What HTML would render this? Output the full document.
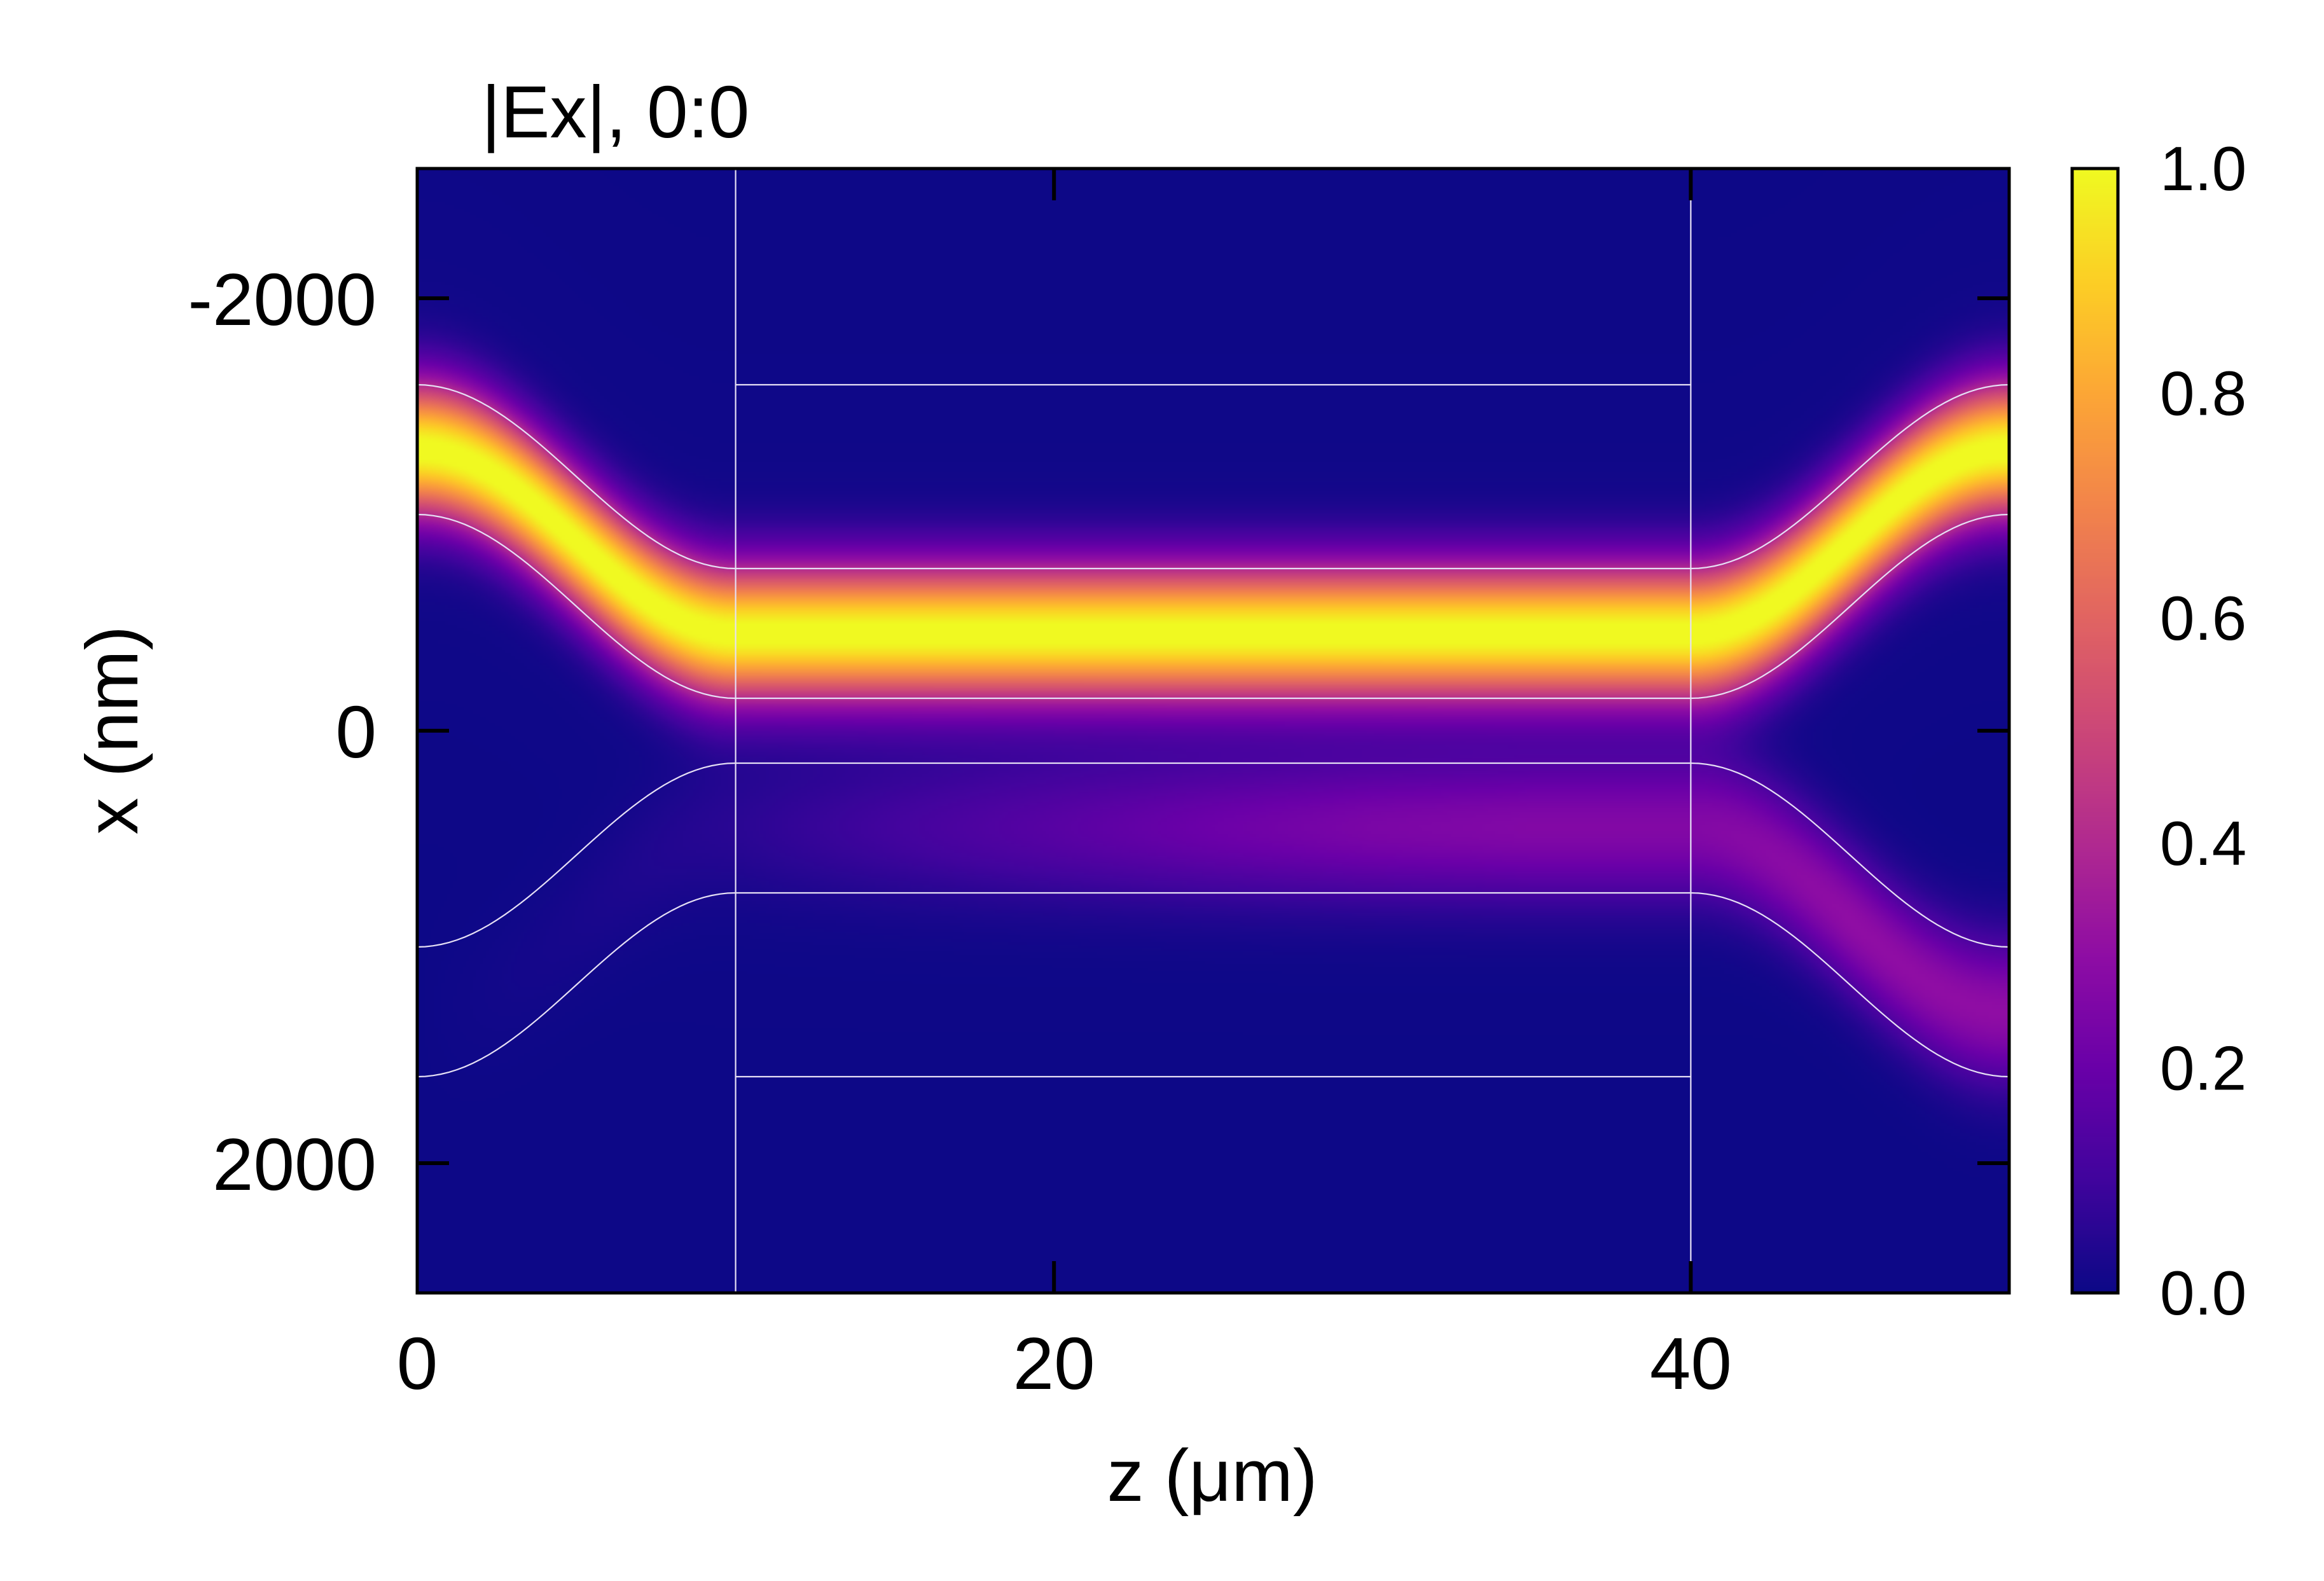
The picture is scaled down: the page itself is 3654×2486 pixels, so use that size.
<!DOCTYPE html>
<html><head><meta charset="utf-8"><style>
html,body{margin:0;padding:0;background:#fff;}
#root{position:relative;width:3654px;height:2486px;overflow:hidden;font-family:"Liberation Sans",sans-serif;color:#000;}
.t{position:absolute;font-size:116px;line-height:1;white-space:nowrap;}
</style></head><body>
<div id="root">
<canvas id="heat" width="500" height="354" style="position:absolute;left:656px;top:265px;width:2503px;height:1768px;"></canvas>
<canvas id="cbar" width="10" height="256" style="position:absolute;left:3258px;top:265px;width:72px;height:1768px;"></canvas>
<svg id="ov" width="3654" height="2486" style="position:absolute;left:0;top:0;"></svg>
<div class="t" style="left:757px;top:118px;">|Ex|, 0:0</div>
<div class="t" style="left:1906px;top:2262px;transform:translateX(-50%);">z (μm)</div>
<div class="t" style="left:176px;top:1148px;transform:translate(-50%,-50%) rotate(-90deg);">x (nm)</div>
</div>
<script>
// data
const zTicks=[0,20,40];
const xTicks=[-2000,0,2000];
const cbTicks=[0.0,0.2,0.4,0.6,0.8,1.0];
const ampZ=[0,5,10,15,20,25,30,35,40,45,50];
const upperAmp=[1,1,1,1,1,1,1,1,1,1,1];
const lowerAmp=[0,0.02,0.05,0.1,0.15,0.2,0.24,0.26,0.26,0.3,0.3];
const bendOuter=[-1300,1300]; // guide centers at z=0 and z=50 (nm)
const bendInner=[-450,450];   // guide centers in coupler
const guideWidth=600;
const couplerZ=[10,40];
const boxX=[-1600,1600];
const Z0=0,Z1=50,X0=-2600,X1=2600;
const L=656,R=3159,T=265,B=2033;
const sx=z=>L+(z-Z0)/(Z1-Z0)*(R-L);
const sy=x=>T+(x-X0)/(X1-X0)*(B-T);
const plasma=[[13,8,135],[65,4,157],[106,0,168],[143,13,164],[177,42,144],[204,71,120],[225,100,98],[242,132,75],[252,166,54],[252,206,37],[240,249,33]];
function cmap(v){v=Math.max(0,Math.min(1,v));const p=v*10,i=Math.min(9,Math.floor(p)),f=p-i;return plasma[i].map((c,k)=>c+(plasma[i+1][k]-c)*f);}
function center(z,k){
 const o=bendOuter[k],n=bendInner[k];
 if(z<=couplerZ[0]){const t=z/couplerZ[0];return o+(n-o)*(1-Math.cos(Math.PI*t))/2;}
 if(z>=couplerZ[1]){const t=(Z1-z)/(Z1-couplerZ[1]);return o+(n-o)*(1-Math.cos(Math.PI*t))/2;}
 return n;}
function interp(arr,z){const i=Math.min(arr.length-2,Math.floor(z/5));const f=(z-ampZ[i])/5;return arr[i]+(arr[i+1]-arr[i])*f;}
const hc=document.getElementById('heat'),ctx=hc.getContext('2d');
const W=hc.width,H=hc.height,img=ctx.createImageData(W,H);
for(let i=0;i<W;i++){const z=Z0+(i+0.5)/W*(Z1-Z0);
 const cu=center(z,0),cl=center(z,1),au=interp(upperAmp,z),al=interp(lowerAmp,z);
 for(let j=0;j<H;j++){const x=X0+(j+0.5)/H*(X1-X0);
  const v=au*Math.exp(-Math.pow((x-cu)/310,2))+al*Math.exp(-Math.pow((x-cl)/330,2))+0.02*Math.exp(-Math.abs(x-cu)/600);
  const c=cmap(v),o=(j*W+i)*4;img.data[o]=c[0];img.data[o+1]=c[1];img.data[o+2]=c[2];img.data[o+3]=255;}}
ctx.putImageData(img,0,0);
const cb=document.getElementById('cbar'),cx=cb.getContext('2d');
for(let j=0;j<256;j++){const c=cmap(1-j/255);cx.fillStyle=`rgb(${c.map(Math.round).join(',')})`;cx.fillRect(0,j,10,1);}
const svg=document.getElementById('ov'),NS='http://www.w3.org/2000/svg';
function add(tag,attrs,name){const e=document.createElementNS(NS,tag);for(const k in attrs)e.setAttribute(k,attrs[k]);
 
 
 svg.appendChild(e);return e;}
for(let k=0;k<2;k++){for(const s of [-1,1]){let d='';for(let n=0;n<=200;n++){const z=Z0+n/200*(Z1-Z0);d+=(n?'L':'M')+sx(z).toFixed(1)+','+sy(center(z,k)+s*guideWidth/2).toFixed(1);}
 add('path',{d:d,fill:'none',stroke:'#e6e0f5','stroke-width':2.2},'waveguide-edge');}}
for(const zc of couplerZ)add('line',{x1:sx(zc),x2:sx(zc),y1:T,y2:B,stroke:'#e6e0f5','stroke-width':2.2},'coupler-boundary');
for(const xb of boxX)add('line',{x1:sx(couplerZ[0]),x2:sx(couplerZ[1]),y1:sy(xb),y2:sy(xb),stroke:'#e6e0f5','stroke-width':2.2},'coupler-box-edge');
add('rect',{x:L,y:T,width:R-L,height:B-T,fill:'none',stroke:'#000','stroke-width':5},'plot-frame');
for(const z of zTicks){if(z===Z0)continue;
 add('line',{x1:sx(z),x2:sx(z),y1:T,y2:T+50,stroke:'#000','stroke-width':6},'x-tick-top');
 add('line',{x1:sx(z),x2:sx(z),y1:B,y2:B-50,stroke:'#000','stroke-width':6},'x-tick-bottom');}
for(const z of zTicks){const t=add('text',{x:sx(z),y:2184,'text-anchor':'middle','font-size':116,'font-family':'Liberation Sans, sans-serif'},'x-tick-label');t.textContent=z;}
for(const x of xTicks){
 add('line',{x1:L,x2:L+50,y1:sy(x),y2:sy(x),stroke:'#000','stroke-width':6},'y-tick-left');
 add('line',{x1:R,x2:R-50,y1:sy(x),y2:sy(x),stroke:'#000','stroke-width':6},'y-tick-right');
 const t=add('text',{x:592,y:sy(x)+42,'text-anchor':'end','font-size':116,'font-family':'Liberation Sans, sans-serif'},'y-tick-label');t.textContent=x;}
add('rect',{x:3258,y:T,width:72,height:B-T,fill:'none',stroke:'#000','stroke-width':5},'colorbar-frame');
for(const v of cbTicks){const y=B-v*(B-T);const t=add('text',{x:3396,y:y+34,'font-size':98,'font-family':'Liberation Sans, sans-serif'},'colorbar-tick-label');t.textContent=v.toFixed(1);}
</script>
</body></html>
